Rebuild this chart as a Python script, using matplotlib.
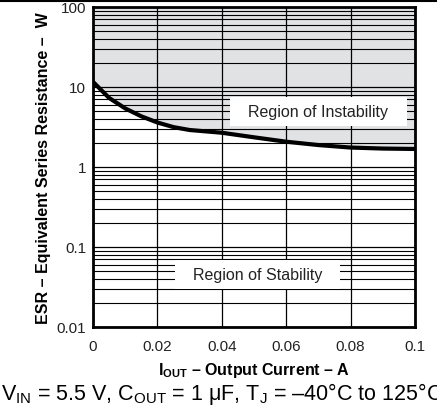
import matplotlib
matplotlib.use("Agg")
import matplotlib.pyplot as plt
from matplotlib.patches import Rectangle
from matplotlib.lines import Line2D
import numpy as np

plt.rcParams['font.family'] = ['Liberation Sans', 'DejaVu Sans']
plt.rcParams['mathtext.fontset'] = 'custom'
plt.rcParams['mathtext.rm'] = 'Liberation Sans'
plt.rcParams['mathtext.bf'] = 'Liberation Sans:bold'

# ESR boundary
iout = [0, 0.005, 0.01, 0.015, 0.02, 0.025, 0.03, 0.04, 0.05, 0.06, 0.07, 0.08, 0.09, 0.1]
esr = [11.6, 7.3, 5.4, 4.3, 3.6, 3.15, 2.9, 2.68, 2.35, 2.07, 1.88, 1.75, 1.7, 1.68]

xticks = [0, 0.02, 0.04, 0.06, 0.08, 0.1]
xtick_labels = ['0', '0.02', '0.04', '0.06', '0.08', '0.1']
yticks = [0.01, 0.1, 1, 10, 100]
ytick_labels = ['0.01', '0.1', '1', '10', '100']

# label boxes (x0, x1, y0, y1) in data units
unstable_box = (0.0425, 0.0975, 3.25, 7.5)
stable_box = (0.0255, 0.0767, 0.030, 0.069)

fig = plt.figure(figsize=(4.37, 4.10), dpi=100)
ax = fig.add_axes([0.2128, 0.2, 0.737, 0.7805])

ax.set_yscale('log')
ax.set_xlim(0, 0.1)
ax.set_ylim(0.01, 100)

ax.fill_between(iout, esr, 100, color='#e1e2e4', zorder=1, linewidth=0)

ax.set_axisbelow(False)
ax.xaxis.set_major_locator(matplotlib.ticker.FixedLocator(xticks))
ax.yaxis.set_major_locator(matplotlib.ticker.LogLocator(base=10, numticks=10))
ax.yaxis.set_minor_locator(matplotlib.ticker.LogLocator(base=10, subs=np.arange(2, 10), numticks=10))
ax.grid(True, which='major', axis='both', color='black', linewidth=0.9)
ax.grid(True, which='minor', axis='y', color='black', linewidth=0.8)

for (x0, x1, y0, y1) in [unstable_box, stable_box]:
    ax.add_patch(Rectangle((x0, y0), x1 - x0, y1 - y0, facecolor='white',
                           edgecolor='none', zorder=3))

ax.text((unstable_box[0] + unstable_box[1]) / 2, np.sqrt(unstable_box[2] * unstable_box[3]),
        'Region of Instability', ha='center', va='center', fontsize=11.5, color='#222222', zorder=4)
ax.text((stable_box[0] + stable_box[1]) / 2, np.sqrt(stable_box[2] * stable_box[3]),
        'Region of Stability', ha='center', va='center', fontsize=11.5, color='#222222', zorder=4)

ax.plot(iout, esr, color='black', linewidth=3, zorder=5, solid_capstyle='butt')

ax.set_xticks(xticks)
ax.set_xticklabels(xtick_labels)
ax.set_yticks(yticks)
ax.set_yticklabels(ytick_labels)
ax.tick_params(which='both', length=0, labelsize=11, pad=9, colors='#222222')
ax.tick_params(axis='y', pad=5)

for s in ax.spines.values():
    s.set_linewidth(2)
    s.set_zorder(6)

ax.set_xlabel(r'$\mathbf{I_{OUT}}$ – Output Current – A', fontsize=11.5,
              fontweight='bold', labelpad=5)
ax.set_ylabel('ESR – Equivalent Series Resistance –  W', fontsize=11.5,
              fontweight='bold', labelpad=4)

fig.text(0.003, 0.024, r'V$_{\mathrm{IN}}$ = 5.5 V, C$_{\mathrm{OUT}}$ = 1 μF, T$_{\mathrm{J}}$ = –40°C to 125°C',
         fontsize=15.5, ha='left', va='baseline')

fig.add_artist(Line2D([0, 1], [0.995, 0.995], color='black', linewidth=1.5))

fig.savefig('out.png', dpi=100)
